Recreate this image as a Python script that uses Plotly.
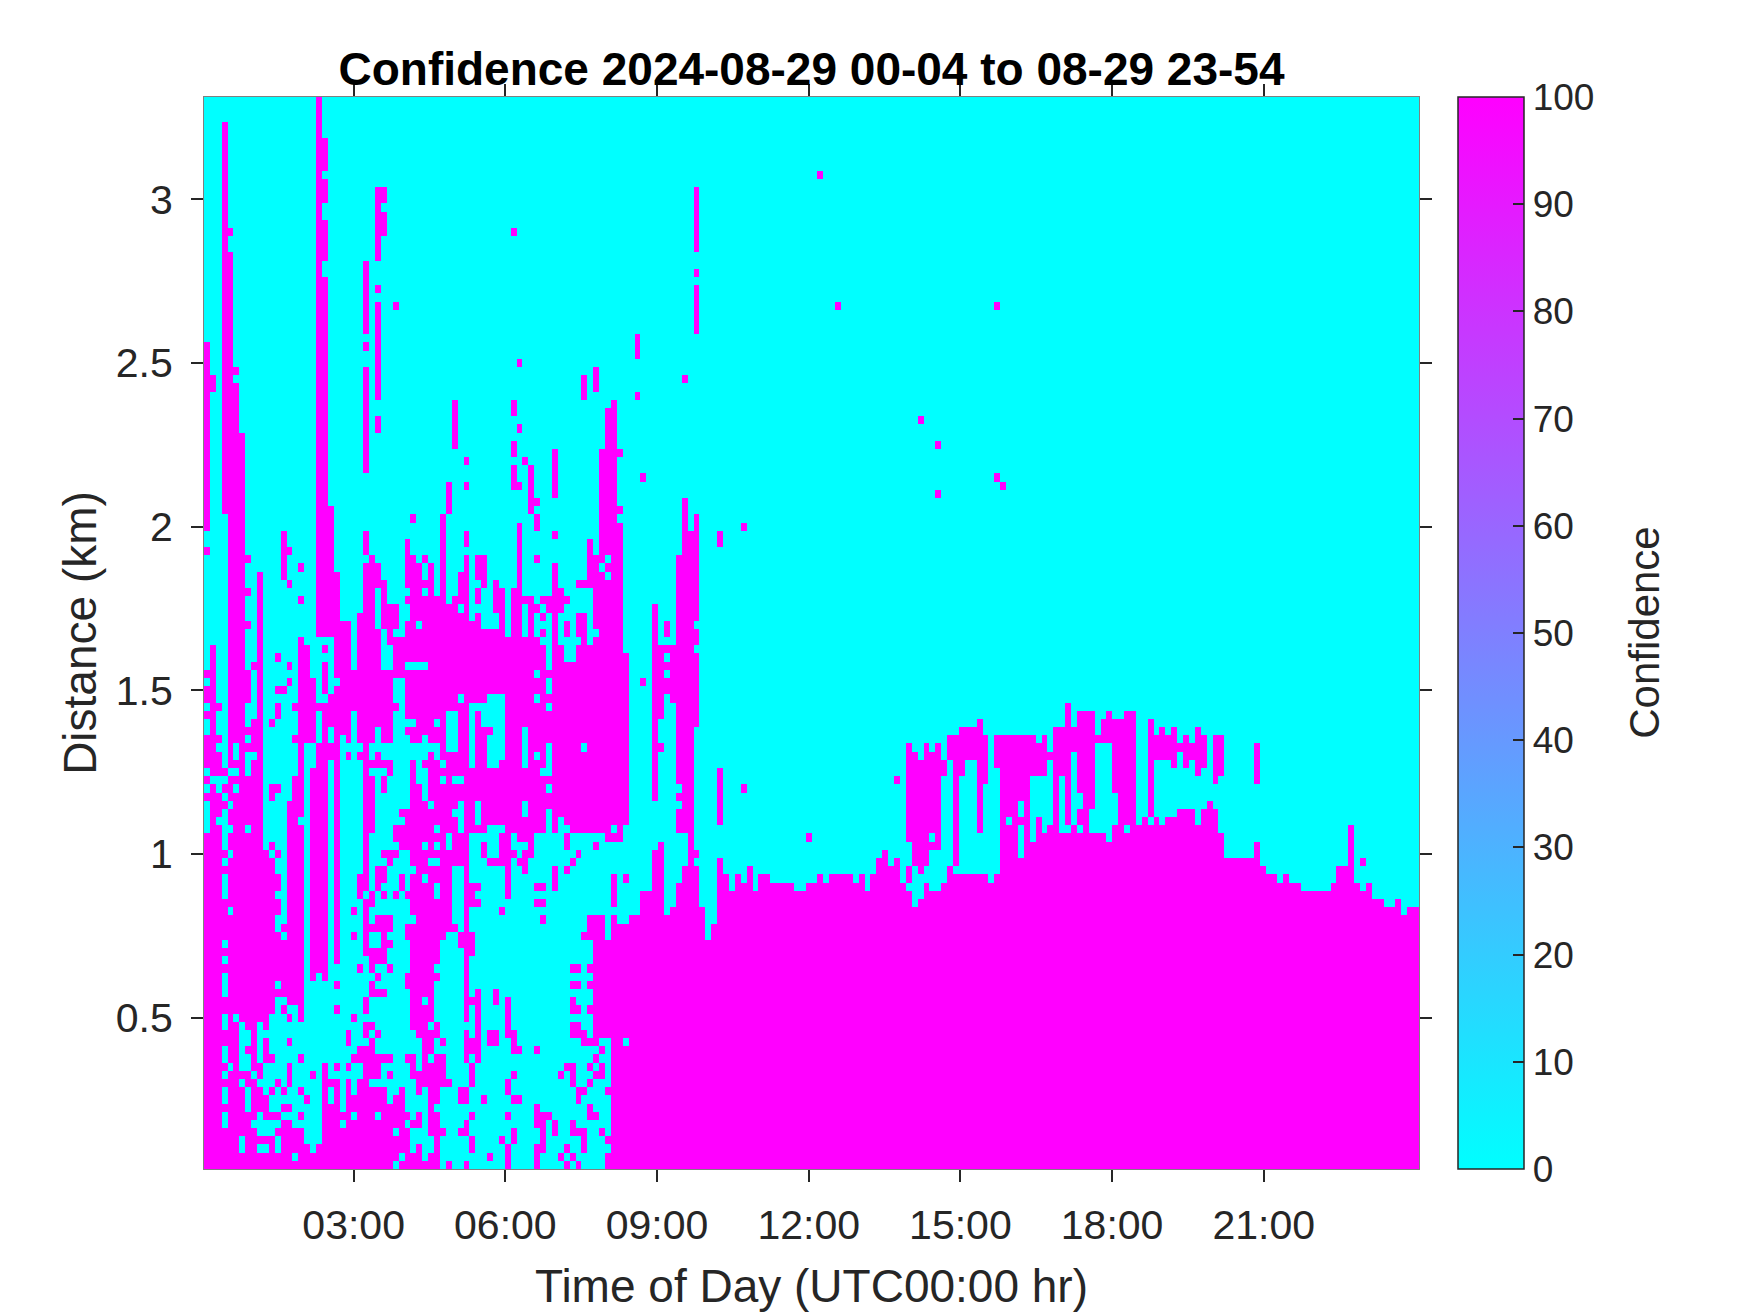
import numpy as np
import plotly.graph_objects as go

# Confidence = 100 runs per time column, as [first range gate, last gate + 1)
cols_a = [
    [(0,41),(45,46),(47,48),(49,53),(55,56),(57,59),(60,61),(75,76),(78,101)],
    [(0,47),(48,64),(95,97)],
    [(0,42),(43,46),(48,51),(52,53),(56,57)],
    [(0,5),(7,8),(10,11),(12,13),(15,17),(19,21),(24,25),(26,27),(28,33),(36,37),(38,39),(44,45),(46,47),(48,49),(80,128)],
    [(0,12),(13,31),(32,38),(39,41),(42,44),(45,48),(49,112),(114,115)],
    [(0,18),(19,46),(47,48),(49,50),(52,96),(97,98)],
    [(0,2),(4,10),(11,12),(18,90)],
    [(0,7),(10,12),(14,15),(17,41),(42,48),(51,52),(53,54),(57,61),(66,67),(70,71),(74,75)],
    [(0,5),(6,11),(12,50),(51,55),(61,62)],
    [(0,2),(3,4),(7,10),(11,13),(18,73)],
    [(0,2),(3,4),(6,9),(13,16),(17,39)],
    [(0,4),(6,7),(9,10),(13,14),(19,38),(39,40),(45,47),(54,55)],
    [(0,2),(4,5),(6,7),(10,11),(21,22),(23,29),(31,33),(34,36),(38,39),(46,47),(55,57),(58,59),(62,63)],
    [(0,6),(7,8),(9,10),(19,20),(21,28),(29,30),(58,59),(72,78)],
    [(0,6),(7,8),(10,13),(15,16),(18,19),(20,45),(59,60),(61,62),(71,72),(75,76)],
    [(0,1),(2,5),(20,48),(52,53),(56,57)],
    [(0,5),(6,7),(9,10),(13,14),(18,42),(43,65),(69,70),(73,74)],
    [(0,3),(8,9),(52,64)],
    [(0,2),(11,12),(23,49),(52,60)],
    [(0,3),(24,52),(56,57),(65,131)],
]
cols_b = [
    [(0,13),(23,57),(58,62),(63,64),(65,109),(111,116),(118,121),(122,126)],
    [(0,8),(10,11),(50,52),(54,58),(65,81)],
    [(0,11),(12,13),(19,20),(22,23),(25,59),(60,73)],
    [(0,5),(6,7),(53,67)],
    [(0,11),(12,13),(15,17),(50,51),(52,67)],
    [(0,6),(7,9),(13,14),(18,19),(28,29),(31,32),(56,61)],
    [(0,11),(13,15),(24,25),(33,36),(50,51),(52,68)],
    [(0,15),(16,18),(19,21),(26,33),(34,74),(75,78),(85,98),(100,101),(102,111)],
    [(0,10),(11,16),(17,18),(21,23),(24,27),(29,30),(32,34),(41,48),(49,50),(52,75)],
    [(0,6),(7,10),(11,14),(16,17),(21,22),(23,24),(25,27),(29,31),(34,37),(49,51),(54,66),(71,74),(90,92),(94,106),(107,108),(111,120)],
    [(0,10),(13,14),(21,22),(25,31),(33,34),(35,37),(38,39),(46,48),(49,50),(52,61),(66,72),(114,117),(118,120)],
    [(0,8),(11,12),(13,14),(24,25),(27,28),(29,31),(37,39),(48,50),(52,61),(64,69)],
    [(1,4),(5,9),(33,34),(38,39),(40,42),(56,57),(60,65),(66,69),(105,106)],
    [(0,1),(2,9),(9,10),(34,36),(39,42),(43,44),(60,65)],
    [(0,5),(6,7),(13,14),(22,24),(28,30),(33,34),(39,44),(53,54),(55,61),(62,67),(69,70),(71,77)],
    [(0,2),(5,6),(11,14),(17,30),(31,36),(37,50),(52,54),(55,61),(62,75),(79,80)],
    [(0,3),(5,7),(9,12),(16,36),(36,47),(52,61),(62,66),(67,74)],
    [(0,1),(10,20),(21,35),(36,39),(40,45),(49,50),(53,61),(62,70),(71,72),(74,75)],
    [(0,2),(4,13),(14,17),(18,37),(38,44),(45,51),(52,74)],
    [(0,7),(8,14),(16,18),(23,24),(25,33),(35,37),(38,39),(40,41),(42,50),(52,54),(55,70)],
]
cols_c = [
    [(4,5),(10,14),(15,16),(28,47),(48,49),(50,80)],
    [(0,1),(10,11),(29,39),(41,51),(56,69),(80,84)],
    [(29,30),(37,43),(44,47),(48,51),(56,70),(88,94)],
    [(4,5),(8,10),(27,29),(37,41),(45,47),(48,57),(58,68),(69,73)],
    [(0,1),(4,6),(8,10),(13,17),(18,75),(76,78),(83,84),(86,87)],
    [(2,4),(6,7),(10,13),(14,16),(20,21),(26,29),(32,35),(41,49),(57,67)],
    [(13,22),(32,33),(34,35),(41,42),(45,56),(57,68),(69,71),(72,75)],
    [(8,9),(38,40),(41,54),(57,66),(71,75)],
    [(1,2),(15,17),(37,38),(42,49),(53,54),(58,66)],
    [(15,17),(20,22),(37,38),(42,49),(58,66),(68,72)],
    [(3,4),(31,32),(37,41),(42,50),(58,71)],
    [(0,3),(6,7),(9,11),(16,21),(33,65)],
    [(3,5),(8,9),(11,12),(14,17),(38,39),(41,71),(83,86),(87,89),(92,94),(114,115)],
    [(8,9),(14,15),(37,38),(40,79),(83,84),(90,91),(98,99)],
    [(36,39),(40,43),(45,49),(54,65),(69,70),(86,87)],
    [(38,70),(80,86)],
    [(0,3),(5,8),(14,15),(32,33),(34,35),(41,50),(51,57),(58,60),(61,65),(68,69),(74,75),(78,80),(81,82)],
    [(2,7),(30,31),(32,33),(34,35),(41,48),(49,64),(65,66),(67,68),(69,70)],
    [(6,7),(44,46),(47,48),(52,56),(57,58),(60,61),(68,70)],
    [(4,6),(34,37),(41,74),(77,78),(82,88)],
]
cols_d = [
    [(1,2),(11,12),(43,64),(68,71)],
    [(0,1),(2,3),(12,13),(36,37),(39,41),(42,62),(65,67),(69,70)],
    [(1,2),(4,6),(10,13),(16,18),(19,21),(22,23),(24,25),(37,38),(41,62)],
    [(0,1),(4,5),(8,10),(16,18),(19,20),(22,23),(24,25),(38,39),(41,64),(65,68),(71,72)],
    [(2,5),(9,10),(15,17),(28,29),(41,51),(52,68),(71,72),(94,97)],
    [(6,8),(10,11),(12,13),(15,16),(19,20),(22,23),(24,25),(28,31),(41,64),(71,77)],
    [(6,7),(11,12),(13,14),(15,31),(39,40),(41,65),(66,75),(95,98)],
    [(4,5),(11,13),(14,15),(16,31),(41,72),(72,73),(74,88)],
    [(0,2),(3,4),(9,10),(16,28),(40,72),(73,74),(75,93)],
    [(0,31),(32,36),(40,41),(42,94)],
    [(0,30),(40,79),(80,81),(87,88)],
    [(0,15),(16,30),(35,36),(42,63)],
    [(0,31)],
    [(0,31),(94,95),(99,102)],
    [(0,34),(59,60),(84,85)],
    [(0,34)],
    [(0,39),(45,69)],
    [(0,40),(51,52),(55,64)],
    [(0,31),(58,60),(61,62),(63,64),(65,67)],
    [(0,32),(57,64)],
]
cols_e = [
    [(0,35),(41,44),(45,46),(47,75)],
    [(0,37),(41,82),(96,97)],
    [(0,78)],
    [(0,37),(38,39),(54,63),(64,66),(67,80),(102,108),(109,110),(112,120)],
    [(0,32)],
    [(0,28)],
    [(0,30)],
    [(0,38),(42,49),(76,78)],
    [(0,36)],
    [(0,34)],
    [(0,36)],
    [(0,35),(46,47),(78,79)],
    [(0,37)],
    [(0,34)],
    [(0,36)],
    [(0,36)],
    [(0,35)],
    [(0,35)],
    [(0,35)],
    [(0,35)],
]
cols_f = [
    [(0,34)],
    [(0,34)],
    [(0,35),(40,41)],
    [(0,35)],
    [(0,36),(121,122)],
    [(0,35)],
    [(0,36)],
    [(0,36),(105,106)],
    [(0,36)],
    [(0,36)],
    [(0,35)],
    [(0,36)],
    [(0,34)],
    [(0,36)],
    [(0,38)],
    [(0,39)],
    [(0,37)],
    [(0,38),(47,48)],
    [(0,35)],
    [(0,34),(35,37),(40,52)],
]
cols_g = [
    [(0,32),(37,51)],
    [(0,33),(36,50),(91,92)],
    [(0,35),(37,52)],
    [(0,34),(39,40),(41,51)],
    [(0,34),(39,52),(82,83),(88,89)],
    [(0,35),(48,50)],
    [(0,37),(50,53)],
    [(0,36),(37,53)],
    [(0,36),(48,54)],
    [(0,36),(50,54)],
    [(0,36),(50,54)],
    [(0,36),(41,55)],
    [(0,36),(47,53)],
    [(0,35)],
    [(0,36),(49,53),(84,85),(105,106)],
    [(0,53),(83,84)],
    [(0,42),(43,53)],
    [(0,53)],
    [(0,38),(42,43),(45,53)],
    [(0,53)],
]
cols_h = [
    [(0,40),(48,53)],
    [(0,43),(48,52)],
    [(0,41),(48,53)],
    [(0,42),(50,51)],
    [(0,54)],
    [(0,41),(48,54)],
    [(0,41),(42,57)],
    [(0,42),(51,54)],
    [(0,41),(42,44),(46,56)],
    [(0,56)],
    [(0,41),(44,56)],
    [(0,41),(52,53)],
    [(0,41),(52,55)],
    [(0,40),(52,56)],
    [(0,42),(46,55)],
    [(0,55)],
    [(0,41),(42,56)],
    [(0,56)],
    [(0,42)],
    [(0,43)],
]
cols_i = [
    [(0,42),(43,55)],
    [(0,43),(50,53)],
    [(0,42),(50,54)],
    [(0,43),(50,53)],
    [(0,43),(49,54)],
    [(0,44),(51,52)],
    [(0,44),(49,53)],
    [(0,44),(50,52)],
    [(0,42),(48,54)],
    [(0,44),(49,53)],
    [(0,45)],
    [(0,44),(47,53)],
    [(0,41),(48,53)],
    [(0,38)],
    [(0,38)],
    [(0,38)],
    [(0,38)],
    [(0,38)],
    [(0,40),(47,52)],
    [(0,37)],
]
cols_j = [
    [(0,36)], [(0,36)], [(0,35)], [(0,36)], [(0,35)], [(0,35)],
    [(0,34)], [(0,34)], [(0,34)], [(0,34)], [(0,34)],
    [(0,35)], [(0,37)], [(0,37)], [(0,42)], [(0,35)],
    [(0,34),(37,38)], [(0,35)], [(0,33)], [(0,33)],
    [(0,32)], [(0,32)], [(0,33)], [(0,31)], [(0,32)], [(0,32)],
]

hour_ticks = [3, 6, 9, 12, 15, 18, 21]
hour_labels = ['03:00', '06:00', '09:00', '12:00', '15:00', '18:00', '21:00']
km_ticks = [0.5, 1, 1.5, 2, 2.5, 3]
km_labels = ['0.5', '1', '1.5', '2', '2.5', '3']
conf_ticks = [0, 10, 20, 30, 40, 50, 60, 70, 80, 90, 100]

columns = cols_a + cols_b + cols_c + cols_d + cols_e + cols_f + cols_g + cols_h + cols_i + cols_j

# 7 min profiles, 25 m gates
hours = 0.0983 + np.arange(len(columns)) * 7 / 60
km = 0.05 + np.arange(131) * 0.025

conf = np.zeros((len(km), len(columns)))
for i, runs in enumerate(columns):
    for lo, hi in runs:
        conf[lo:hi, i] = 100

font = 'Liberation Sans, Arial, sans-serif'
ink = '#262626'

fig = go.Figure()
fig.add_trace(go.Heatmap(
    x=hours, y=km, z=conf, zmin=0, zmax=100,
    colorscale=[[0, '#00ffff'], [1, '#ff00ff']],
    hoverongaps=False,
    colorbar=dict(
        x=1.032, xanchor='left', y=0, yanchor='bottom', len=1, lenmode='fraction',
        thickness=66, thicknessmode='pixels', xpad=0, ypad=0,
        outlinecolor=ink, outlinewidth=1.5,
        ticks='inside', ticklen=11, tickcolor=ink, tickwidth=1.5,
        tickvals=conf_ticks, tickprefix='\u2004',
        tickfont=dict(family=font, size=37, color=ink),
    ),
))

fig.add_annotation(text='Confidence', xref='paper', yref='paper', x=1.185, y=0.5,
                   xanchor='center', yanchor='middle', textangle=-90, showarrow=False,
                   font=dict(family=font, size=42, color=ink))

fig.update_layout(
    width=1750, height=1313, autosize=False,
    margin=dict(l=196, r=339, t=89, b=152, pad=0),
    plot_bgcolor='white', paper_bgcolor='white',
    font=dict(family=font, color=ink),
    title=dict(text='<b>Confidence 2024-08-29 00-04 to 08-29 23-54</b>',
               x=0.5, xref='paper', xanchor='center',
               y=0.9415, yref='container', yanchor='bottom',
               font=dict(family=font, size=46, color='black')),
)
fig.update_xaxes(
    range=[0.04, 24.07], tickvals=hour_ticks, ticktext=hour_labels,
    ticks='outside', ticklen=12, tickwidth=1.5, tickcolor=ink,
    showline=True, linecolor='#808080', linewidth=1, mirror='ticks',
    showgrid=False, zeroline=False, ticklabelstandoff=8,
    tickfont=dict(family=font, size=41, color=ink),
    title=dict(text='Time of Day (UTC00:00 hr)', standoff=22,
               font=dict(family=font, size=46, color=ink)),
)
fig.update_yaxes(
    range=[0.0375, 3.3125], tickvals=km_ticks, ticktext=km_labels,
    ticks='outside', ticklen=12, tickwidth=1.5, tickcolor=ink,
    showline=True, linecolor='#808080', linewidth=1, mirror='ticks',
    showgrid=False, zeroline=False, ticklabelstandoff=10,
    tickfont=dict(family=font, size=41, color=ink),
    title=dict(text='Distance (km)', standoff=4,
               font=dict(family=font, size=46, color=ink)),
)

fig.write_html("out.html")
